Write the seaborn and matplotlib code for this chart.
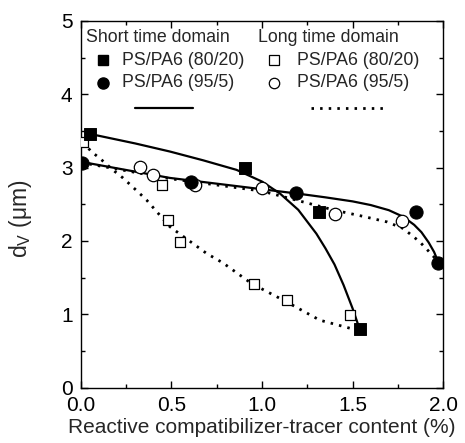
import numpy as np
import pandas as pd
import matplotlib
matplotlib.use("Agg")
import matplotlib.pyplot as plt
from matplotlib.ticker import MultipleLocator
import seaborn as sns

sns.set_theme(style="ticks")
plt.rcParams["font.family"] = ["Liberation Sans", "DejaVu Sans"]
plt.rcParams["mathtext.fontset"] = "custom"
plt.rcParams["mathtext.rm"] = "Liberation Sans"

# Measured droplet diameters, short time domain
short_8020_x = [0.05, 0.907, 1.313, 1.54]
short_8020_y = [3.46, 2.99, 2.40, 0.80]
short_955_x = [0.004, 0.61, 1.185, 1.85, 1.972]
short_955_y = [3.07, 2.80, 2.65, 2.39, 1.70]

# Measured droplet diameters, long time domain
long_8020_x = [0.013, 0.449, 0.482, 0.546, 0.957, 1.139, 1.488]
long_8020_y = [3.35, 2.77, 2.29, 1.98, 1.42, 1.195, 0.995]
long_955_x = [0.326, 0.40, 0.629, 1.0, 1.403, 1.773]
long_955_y = [3.005, 2.90, 2.77, 2.72, 2.37, 2.27]

# Trend curves drawn through each series
fit_short_8020_x = [0.05, 0.30, 0.491, 0.675, 0.859, 1.0, 1.1, 1.2, 1.3, 1.35, 1.4, 1.45, 1.5, 1.54]
fit_short_8020_y = [3.46, 3.33, 3.22, 3.10, 2.97, 2.81, 2.645, 2.425, 2.10, 1.90, 1.68, 1.40, 1.08, 0.79]
fit_short_955_x = [0.0, 0.491, 1.2, 1.35, 1.5, 1.6, 1.7, 1.78, 1.84, 1.88, 1.92, 1.95, 1.972]
fit_short_955_y = [3.08, 2.86, 2.645, 2.595, 2.54, 2.49, 2.42, 2.33, 2.22, 2.12, 1.98, 1.85, 1.72]
fit_long_8020_x = [0.011, 0.057, 0.103, 0.186, 0.232, 0.315, 0.362, 0.491, 0.694, 0.785, 0.942, 1.135, 1.319, 1.485]
fit_long_8020_y = [3.35, 3.22, 3.13, 2.95, 2.86, 2.67, 2.56, 2.195, 1.83, 1.70, 1.42, 1.17, 0.92, 0.81]
fit_long_955_x = [0.0, 0.491, 1.0, 1.2, 1.4, 1.55, 1.69, 1.78, 1.87, 1.92, 1.972]
fit_long_955_y = [3.07, 2.85, 2.68, 2.55, 2.42, 2.34, 2.26, 2.17, 1.99, 1.86, 1.72]

fig = plt.figure(figsize=(4.65, 4.43), dpi=100)
ax = fig.add_axes([0.174, 0.125, 0.779, 0.8276])

solid_kw = dict(color="black", linewidth=1.6, estimator=None, sort=False, legend=False)
dotted_kw = dict(color="black", linewidth=2.0, estimator=None, sort=False, legend=False)

sns.lineplot(x=fit_short_8020_x, y=fit_short_8020_y, ax=ax, **solid_kw)
sns.lineplot(x=fit_short_955_x, y=fit_short_955_y, ax=ax, **solid_kw)
sns.lineplot(x=fit_long_8020_x, y=fit_long_8020_y, ax=ax, **dotted_kw)
sns.lineplot(x=fit_long_955_x, y=fit_long_955_y, ax=ax, **dotted_kw)
for ln in ax.lines[2:4]:
    ln.set_linestyle((0, (0.9, 2.2)))

sns.scatterplot(x=long_8020_x, y=long_8020_y, ax=ax, marker="s", s=60,
                facecolor="white", edgecolor="black", linewidth=0.9, zorder=3)
sns.scatterplot(x=long_955_x, y=long_955_y, ax=ax, marker="o", s=80,
                facecolor="white", edgecolor="black", linewidth=0.9, zorder=3)
sns.scatterplot(x=short_8020_x, y=short_8020_y, ax=ax, marker="s", s=70,
                color="black", edgecolor="black", zorder=4)
sns.scatterplot(x=short_955_x, y=short_955_y, ax=ax, marker="o", s=90,
                color="black", edgecolor="black", zorder=4)

ax.set_xlim(0, 2.0)
ax.set_ylim(0, 5)
ax.xaxis.set_major_locator(MultipleLocator(0.5))
ax.xaxis.set_minor_locator(MultipleLocator(0.25))
ax.yaxis.set_major_locator(MultipleLocator(1))
ax.yaxis.set_minor_locator(MultipleLocator(0.5))
ax.set_xticks([0, 0.5, 1.0, 1.5, 2.0], ["0.0", "0.5", "1.0", "1.5", "2.0"])
ax.tick_params(which="both", direction="in", top=True, right=True, colors="black")
ax.tick_params(which="major", length=5, width=1, labelsize=15)
ax.tick_params(which="minor", length=3, width=1)
ax.tick_params(axis="x", which="major", pad=6)
ax.tick_params(axis="y", which="major", pad=6)
for sp in ax.spines.values():
    sp.set_color("black")
    sp.set_linewidth(1.0)
    sp.set_visible(True)

ax.set_xlabel("Reactive compatibilizer-tracer content (%)", fontsize=15, labelpad=2)
ax.set_ylabel(r"d$_\mathrm{V}$ ($\mathrm{\mu}$m)", fontsize=16.5)
ax.yaxis.set_label_coords(-0.13, 0.46)

# Key box at the top of the panel
tr = ax.transAxes
fs = 12.8
ax.text(0.014, 0.956, "Short time domain", transform=tr, fontsize=fs, va="center", ha="left")
ax.text(0.489, 0.956, "Long time domain", transform=tr, fontsize=fs, va="center", ha="left")
ax.plot([0.06], [0.893], transform=tr, marker="s", ms=7, color="black", clip_on=False)
ax.plot([0.06], [0.831], transform=tr, marker="o", ms=8, color="black", clip_on=False)
ax.plot([0.532], [0.893], transform=tr, marker="s", ms=6.5, mfc="white", mec="black", mew=0.9)
ax.plot([0.532], [0.831], transform=tr, marker="o", ms=7.5, mfc="white", mec="black", mew=0.9)
ax.text(0.113, 0.893, "PS/PA6 (80/20)", transform=tr, fontsize=fs, va="center", ha="left")
ax.text(0.113, 0.831, "PS/PA6 (95/5)", transform=tr, fontsize=fs, va="center", ha="left")
ax.text(0.597, 0.893, "PS/PA6 (80/20)", transform=tr, fontsize=fs, va="center", ha="left")
ax.text(0.597, 0.831, "PS/PA6 (95/5)", transform=tr, fontsize=fs, va="center", ha="left")
ax.plot([0.149, 0.309], [0.763, 0.763], transform=tr, color="black", lw=1.6)
ax.plot([0.635, 0.840], [0.763, 0.763], transform=tr, color="black", lw=2.0,
        linestyle=(0, (0.9, 2.2)))

fig.savefig("out.png", dpi=100)
